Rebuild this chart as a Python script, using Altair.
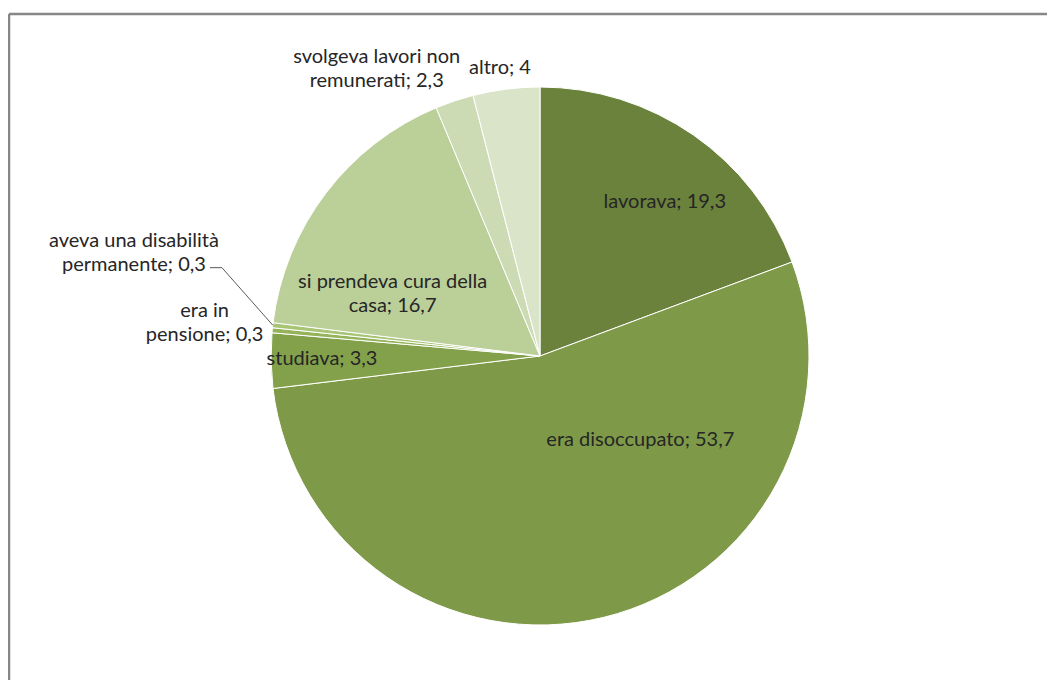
import math
import altair as alt
import pandas as pd

# ---- data ----
categories = [
    "lavorava",
    "era disoccupato",
    "studiava",
    "era in pensione",
    "aveva una disabilità permanente",
    "si prendeva cura della casa",
    "svolgeva lavori non remunerati",
    "altro",
]
values = [19.3, 53.7, 3.3, 0.3, 0.3, 16.7, 2.3, 4.0]
label_lines = [
    "lavorava; 19,3",
    "era disoccupato; 53,7",
    "studiava; 3,3",
    "era in\npensione; 0,3",
    "aveva una disabilità\npermanente; 0,3",
    "si prendeva cura della\ncasa; 16,7",
    "svolgeva lavori non\nremunerati; 2,3",
    "altro; 4",
]
colors = ["#6A823C", "#7E9A48", "#83A14B", "#94B35A", "#A8C576",
          "#BBCF99", "#CCDBB4", "#DAE4C9"]

# ---- layout (label placement relative to slice middle) ----
label_angle_shift = [4.3, -36.3, 0.2, 0.1, 7.7, -14.3, -11.1, -0.7]   # degrees
label_radius = [198, 131, 218, 337, 419, 160, 330, 291]               # px
CX, CY, R = 531, 342, 269
W, H = 1038, 666

total = sum(values)
cum = 0.0
rows = []
for i, (c, v) in enumerate(zip(categories, values)):
    mid = (cum + v / 2) / total * 360.0
    cum += v
    ang = math.radians(mid + label_angle_shift[i])
    rows.append(dict(idx=i, cat=c, value=v, label=label_lines[i],
                     multi=("\n" in label_lines[i]),
                     mid=mid, ang=ang, r=label_radius[i]))
df = pd.DataFrame(rows)

pie = alt.Chart(df).mark_arc(outerRadius=R, stroke="white", strokeWidth=1).encode(
    theta=alt.Theta("value:Q", stack=True),
    order=alt.Order("idx:Q"),
    color=alt.Color("cat:N", scale=alt.Scale(domain=categories, range=colors), legend=None),
    x=alt.value(CX),
    y=alt.value(CY),
)


def label_layer(multi):
    return alt.Chart(df[df["multi"] == multi]).mark_text(
        font="Lato", fontSize=20, lineHeight=24, lineBreak="\n",
        align="center", baseline="middle", color="#262626",
        dy=-12 if multi else 0,
    ).encode(
        theta=alt.Theta("ang:Q", scale=None),
        radius=alt.Radius("r:Q", scale=None),
        text="label:N",
        x=alt.value(CX),
        y=alt.value(CY),
    )


# leader line for the "disabilità" label
dis = df.iloc[4]
lab_x = CX + dis["r"] * math.sin(dis["ang"])
lab_y = CY - dis["r"] * math.cos(dis["ang"])
edge_ang = math.radians(dis["mid"])
lead = pd.DataFrame({
    "o": [0, 1, 2],
    "px": [lab_x + 76, lab_x + 88, CX + R * math.sin(edge_ang)],
    "py": [lab_y + 15, lab_y + 15, CY - R * math.cos(edge_ang)],
})
leader = alt.Chart(lead).mark_line(color="#595959", strokeWidth=1).encode(
    x=alt.X("px:Q", scale=None, axis=None),
    y=alt.Y("py:Q", scale=None, axis=None),
    order="o:Q",
)

frame_left = alt.Chart(pd.DataFrame({"a": [0]})).mark_rule(color="#878787", strokeWidth=2.5).encode(
    x=alt.value(0), y=alt.value(0), y2=alt.value(H + 20)
)
frame_top = alt.Chart(pd.DataFrame({"a": [0]})).mark_rule(color="#878787", strokeWidth=2.5).encode(
    y=alt.value(0), x=alt.value(0), x2=alt.value(W + 20)
)

chart = alt.layer(frame_left, frame_top, pie, leader, label_layer(False), label_layer(True)).properties(
    width=W, height=H,
    autosize=alt.AutoSizeParams(type="none"),
    padding={"left": 1, "top": 6, "right": 0, "bottom": 0},
).configure_view(stroke=None).configure(background="white")

chart.save("out.html", embed_options={"renderer": "svg", "actions": False})
